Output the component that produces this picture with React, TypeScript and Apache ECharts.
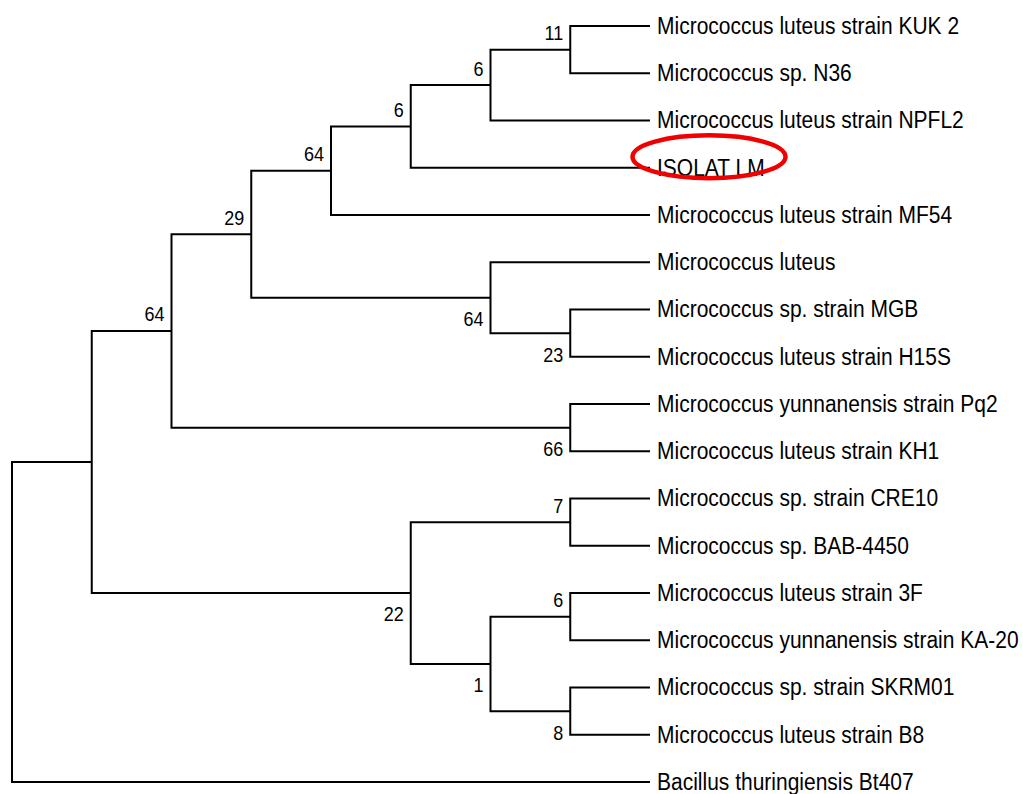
import React, { useEffect, useRef } from "react";
import * as echarts from "echarts";

// Leaves (top to bottom)
const leafNames: string[] = [
  "Micrococcus luteus strain KUK 2",
  "Micrococcus sp. N36",
  "Micrococcus luteus strain NPFL2",
  "ISOLAT LM",
  "Micrococcus luteus strain MF54",
  "Micrococcus luteus",
  "Micrococcus sp. strain MGB",
  "Micrococcus luteus strain H15S",
  "Micrococcus yunnanensis strain Pq2",
  "Micrococcus luteus strain KH1",
  "Micrococcus sp. strain CRE10",
  "Micrococcus sp. BAB-4450",
  "Micrococcus luteus strain 3F",
  "Micrococcus yunnanensis strain KA-20",
  "Micrococcus sp. strain SKRM01",
  "Micrococcus luteus strain B8",
  "Bacillus thuringiensis Bt407",
];
const leafDepth = 8;

// Internal nodes: depth (cladogram level), children, bootstrap support
const nodeDepth: number[] = [7, 6, 5, 4, 7, 6, 3, 7, 2, 7, 7, 7, 6, 5, 1, 0];
const nodeChildren: string[][] = [
  ["L0", "L1"],
  ["N0", "L2"],
  ["N1", "L3"],
  ["N2", "L4"],
  ["L6", "L7"],
  ["L5", "N4"],
  ["N3", "N5"],
  ["L8", "L9"],
  ["N6", "N7"],
  ["L10", "L11"],
  ["L12", "L13"],
  ["L14", "L15"],
  ["N10", "N11"],
  ["N9", "N12"],
  ["N8", "N13"],
  ["N14", "L16"],
];
const nodeSupport: (number | null)[] = [11, 6, 6, 64, 23, 64, 29, 66, 64, 7, 6, 8, 1, 22, null, null];
const highlightedLeaf = "ISOLAT LM";

const FONT = "'Liberation Sans', Arial, Helvetica, sans-serif";

function refPos(ref: string): { x: number; y: number } {
  const idx = parseInt(ref.slice(1), 10);
  if (ref[0] === "L") return { x: leafDepth, y: idx };
  const [a, b] = nodeChildren[idx];
  const pa = refPos(a);
  const pb = refPos(b);
  return { x: nodeDepth[idx], y: (pa.y + pb.y) / 2 };
}

const nodeY = nodeDepth.map((_, i) => refPos("N" + i).y);

// side: +1 if node is the upper child of its parent (label above), -1 otherwise
function nodeSide(i: number): number {
  const ref = "N" + i;
  for (const ch of nodeChildren) {
    if (ch[0] === ref) return 1;
    if (ch[1] === ref) return -1;
  }
  return 1;
}

export default function App() {
  const ref = useRef<HTMLDivElement>(null);
  useEffect(() => {
    if (!ref.current) return;
    const chart = echarts.init(ref.current, undefined, { renderer: "svg" });

    const branchData = nodeDepth.map((d, i) => [d, nodeY[i], i]);
    const supportData: number[][] = [];
    nodeSupport.forEach((s, i) => {
      if (s !== null) supportData.push([nodeDepth[i], nodeY[i], s, nodeSide(i)]);
    });
    const leafData = leafNames.map((_, i) => [leafDepth, i, i]);

    chart.setOption({
      animation: false,
      backgroundColor: "#ffffff",
      grid: { left: 12, top: 26, width: 638, height: 756 },
      xAxis: { type: "value", min: 0, max: 8, show: false },
      yAxis: { type: "value", min: 0, max: 16, inverse: true, show: false },
      series: [
        {
          type: "custom",
          clip: false,
          silent: true,
          data: branchData,
          renderItem: (params: any, api: any) => {
            const i = api.value(2);
            const d = api.value(0);
            const [a, b] = nodeChildren[i];
            const pa = refPos(a);
            const pb = refPos(b);
            const pts = [
              api.coord([pa.x, pa.y]),
              api.coord([d, pa.y]),
              api.coord([d, pb.y]),
              api.coord([pb.x, pb.y]),
            ];
            return {
              type: "polyline",
              shape: { points: pts },
              style: { stroke: "#000", lineWidth: 2, fill: "none", lineJoin: "miter" },
            };
          },
        },
        {
          type: "custom",
          clip: false,
          silent: true,
          data: supportData,
          renderItem: (params: any, api: any) => {
            const p = api.coord([api.value(0), api.value(1)]);
            const side = api.value(3);
            return {
              type: "text",
              x: p[0] - 7,
              y: p[1] + (side > 0 ? -17 : 21),
              scaleY: 1.15,
              style: {
                text: String(api.value(2)),
                fontSize: 18,
                fontFamily: FONT,
                fill: "#000",
                align: "right",
                verticalAlign: "middle",
              },
            };
          },
        },
        {
          type: "custom",
          clip: false,
          silent: true,
          data: leafData,
          renderItem: (params: any, api: any) => {
            const i = api.value(2);
            const p = api.coord([api.value(0), api.value(1)]);
            const name = leafNames[i];
            const children: any[] = [
              {
                type: "text",
                x: p[0] + 7,
                y: p[1],
                scaleY: 1.12,
                style: {
                  text: name,
                  fontSize: 21,
                  fontFamily: FONT,
                  fill: "#000",
                  align: "left",
                  verticalAlign: "middle",
                },
              },
            ];
            if (name === highlightedLeaf) {
              children.push({
                type: "ellipse",
                shape: { cx: p[0] + 59, cy: p[1] - 11, rx: 76.5, ry: 21.5 },
                style: { stroke: "#f00000", lineWidth: 4.5, fill: "none" },
              });
            }
            return { type: "group", children };
          },
        },
      ],
    });
    return () => chart.dispose();
  }, []);

  return (
    <div
      ref={ref}
      style={{ position: "fixed", left: 0, top: 0, width: 1023, height: 794, background: "#fff" }}
    />
  );
}
